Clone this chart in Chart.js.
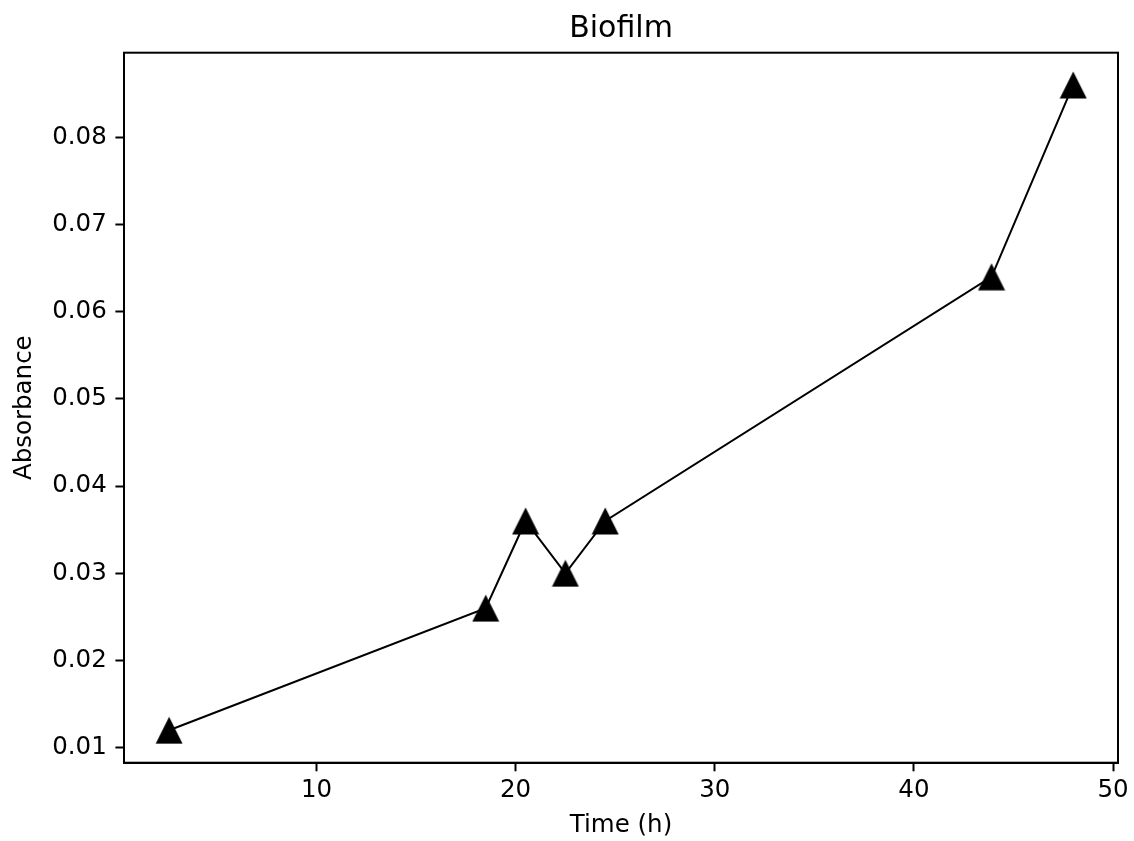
<!DOCTYPE html>
<html>
<head>
<meta charset="utf-8">
<title>Biofilm</title>
<script src="https://cdn.jsdelivr.net/npm/chart.js@4"></script>
<style>
    html, body { margin: 0; padding: 0; background: #fff; }
    canvas { display: block; }
</style>
</head>
<body>
<canvas id="biofilmChart" width="1134" height="841"></canvas>
<script>
// Data
const timeHours = [2.6, 18.5, 20.5, 22.5, 24.5, 43.9, 48];
const absorbance = [0.012, 0.026, 0.036, 0.030, 0.036, 0.064, 0.086];
const xTickValues = [10, 20, 30, 40, 50];
const yTickValues = [0.01, 0.02, 0.03, 0.04, 0.05, 0.06, 0.07, 0.08];
const chartTitle = 'Biofilm';

const fontFamily = '"DejaVu Sans", sans-serif';

// matplotlib style '^' marker
function makeTriangle(size) {
    const c = document.createElement('canvas');
    c.width = size;
    c.height = size;
    const ctx = c.getContext('2d');
    ctx.fillStyle = '#000';
    ctx.beginPath();
    ctx.moveTo(size / 2, 0.5);
    ctx.lineTo(0.5, size - 0.5);
    ctx.lineTo(size - 0.5, size - 0.5);
    ctx.closePath();
    ctx.fill();
    return c;
}
const triangle = makeTriangle(28);

// box around the plot area + title centred over the axes (like matplotlib)
const frame = {
    id: 'frame',
    afterDatasetsDraw(chart) {
        const { ctx, chartArea: a } = chart;
        ctx.save();
        ctx.strokeStyle = '#000';
        ctx.lineWidth = 2;
        ctx.strokeRect(a.left, a.top, a.right - a.left, a.bottom - a.top);

        ctx.fillStyle = '#000';
        ctx.font = '30px ' + fontFamily;
        ctx.textAlign = 'center';
        ctx.textBaseline = 'alphabetic';
        ctx.fillText(chartTitle, (a.left + a.right) / 2, a.top - 16);
        ctx.restore();
    }
};

const points = timeHours.map((t, i) => ({ x: t, y: absorbance[i] }));

new Chart(document.getElementById('biofilmChart'), {
    type: 'scatter',
    data: {
        datasets: [{
            data: points,
            showLine: true,
            borderColor: '#000',
            borderWidth: 2,
            backgroundColor: '#000',
            pointStyle: triangle,
            pointRadius: 14,
            pointHoverRadius: 14,
            tension: 0,
            clip: false
        }]
    },
    options: {
        responsive: false,
        devicePixelRatio: 1,
        animation: false,
        layout: { padding: { left: 0, right: 11.7, top: 52.7, bottom: 0 } },
        plugins: {
            legend: { display: false },
            tooltip: { enabled: false },
            title: { display: false }
        },
        scales: {
            x: {
                type: 'linear',
                min: 0.335,
                max: 50.25,
                afterBuildTicks: scale => { scale.ticks = xTickValues.map(v => ({ value: v })); },
                afterFit: scale => { scale.height = 78.3; },
                ticks: {
                    color: '#000',
                    padding: 4.5,
                    maxRotation: 0,
                    font: { family: fontFamily, size: 24.5 },
                    callback: v => String(v)
                },
                grid: {
                    display: true,
                    drawOnChartArea: false,
                    drawTicks: true,
                    tickLength: 8.6,
                    tickWidth: 2,
                    tickColor: '#000'
                },
                border: { display: true, color: '#000', width: 2 },
                title: {
                    display: true,
                    text: 'Time (h)',
                    color: '#000',
                    font: { family: fontFamily, size: 24.5 },
                    padding: { top: 0, bottom: 0.3 }
                }
            },
            y: {
                type: 'linear',
                min: 0.00828,
                max: 0.0897,
                afterBuildTicks: scale => { scale.ticks = yTickValues.map(v => ({ value: v })); },
                afterFit: scale => { scale.width = 124; },
                ticks: {
                    color: '#000',
                    padding: 8.6,
                    font: { family: fontFamily, size: 24.5 },
                    callback: v => v.toFixed(2)
                },
                grid: {
                    display: true,
                    drawOnChartArea: false,
                    drawTicks: true,
                    tickLength: 8.6,
                    tickWidth: 2,
                    tickColor: '#000'
                },
                border: { display: true, color: '#000', width: 2 },
                title: {
                    display: true,
                    text: 'Absorbance',
                    color: '#000',
                    font: { family: fontFamily, size: 24.5 },
                    padding: { top: 9.5, bottom: 0 }
                }
            }
        }
    },
    plugins: [frame]
});
</script>
</body>
</html>
